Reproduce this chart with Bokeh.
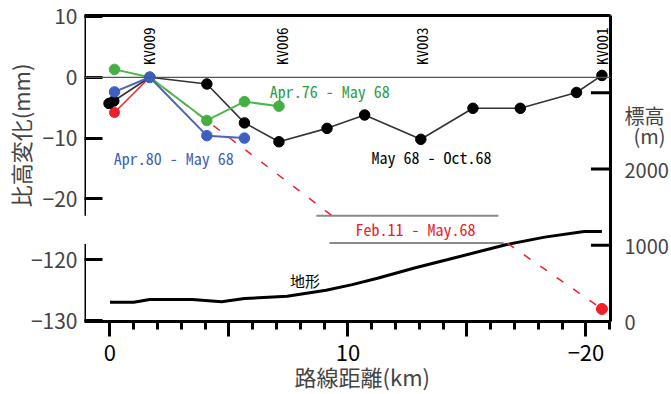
import math
from bokeh.plotting import figure
from bokeh.models import Range1d, LinearAxis, FixedTicker, Span, Label, Arrow
from bokeh.core.properties import value
from bokeh.embed import file_html
from bokeh.resources import INLINE

# ---------------- data (distance in km, height change in mm, elevation in m) ----------------
stations = ["KV009", "KV006", "KV003", "KV001"]
station_km = [1.62, 7.22, 13.1, 20.66]

black_km = [-0.04, 0.16, 1.67, 4.07, 5.65, 7.1, 9.12, 10.7, 13.06, 15.25, 17.24, 19.6, 20.67]
black_mm = [-4.3, -3.9, 0.0, -1.1, -7.5, -10.6, -8.4, -6.2, -10.2, -5.1, -5.1, -2.5, 0.3]

green_km = [0.19, 1.67, 4.07, 5.65, 7.1]
green_mm = [1.3, 0.0, -7.1, -4.0, -4.75]

blue_km = [0.19, 1.67, 4.07, 5.65]
blue_mm = [-2.4, 0.0, -9.6, -10.0]

red_km = [0.19, 1.67]
red_mm = [-5.8, 0.0]
red_end_km = [20.67]
red_end_mm = [-128.1]
red_dash_upper_km = [1.67, 9.31]
red_dash_upper_mm = [0.0, -22.7]
red_dash_lower_km = [16.7, 20.67]
red_dash_lower_mm = [-117.3, -128.1]

terrain_km = [0.0, 1.0, 1.67, 3.46, 4.69, 5.65, 7.44, 9.08, 10.18, 11.28, 12.79, 14.16, 16.63, 18.27, 19.92, 20.67]
terrain_m = [252, 252, 288, 288, 258, 301, 331, 409, 484, 571, 702, 810, 1007, 1107, 1180, 1180]

x_ticks = [0, 5, 10, 15, 20]
x_labels = {5: "", 15: "", 20: "−20"}
y_ticks_upper = [10, 0, -10, -20]
y_ticks_lower = [-120, -130]
elev_ticks = [0, 1000, 2000, 3000]
elev_labels = ["0", "1000", "2000", ""]

# ---------------- broken axis: lower section shifted up ----------------
LOWER_SHIFT = 90.0           # -120 mm is drawn at the -30 position
BREAK_TOP = -22.79           # upper section ends here
BREAK_BOTTOM = -27.43        # lower section starts here
def low(vals):
    return [v + LOWER_SHIFT for v in vals]

XMIN, XMAX = -1.07, 21.03
YMIN, YMAX = -40.16, 10.16
ELEV_MAX = 4015
ELEV_TITLE_1 = 2707   # height at which "標高" sits
ELEV_TITLE_2 = 2445   # height at which "(m)" sits

JP = "Noto Sans CJK JP"
MONO = "Noto Sans Mono CJK JP"
NB = "\u00a0"
IS = "\u3000"

p = figure(width=671, height=394, output_backend="svg", toolbar_location=None,
           x_range=Range1d(XMIN, XMAX), y_range=Range1d(YMIN, YMAX),
           x_axis_location=None, y_axis_location=None,
           min_border_left=80, min_border_right=54, min_border_top=15, min_border_bottom=72)
p.extra_y_ranges = {"elev": Range1d(0, ELEV_MAX)}
p.outline_line_color = None
p.grid.visible = False
p.background_fill_color = "white"

# bottom axis
xa = LinearAxis(ticker=FixedTicker(ticks=x_ticks, minor_ticks=list(range(0, 22))),
                major_label_overrides=x_labels)
xa.axis_line_width = 3
xa.major_tick_line_width = 3
xa.minor_tick_line_width = 3
xa.major_tick_in = 0
xa.major_tick_out = 15
xa.minor_tick_in = 0
xa.minor_tick_out = 8
xa.major_label_standoff = 8
xa.major_label_text_font = JP
xa.major_label_text_font_size = "22px"
xa.major_label_text_color = "black"
p.add_layout(xa, "below")

# outer bottom axis: only the title
xt = LinearAxis(ticker=FixedTicker(ticks=[]), axis_label=NB * 6 + "路線距離(km)")
xt.axis_line_color = None
xt.major_tick_out = 0
xt.minor_tick_out = 0
xt.major_label_text_font_size = "0px"
xt.major_label_standoff = 0
xt.axis_label_standoff = -4
xt.axis_label_text_font = JP
xt.axis_label_text_font_style = "normal"
xt.axis_label_text_font_size = "22px"
p.add_layout(xt, "below")

# top border
ta = LinearAxis(ticker=FixedTicker(ticks=[]))
ta.axis_line_width = 3
ta.major_label_text_font_size = "0px"
ta.major_tick_out = 0
ta.minor_tick_out = 0
ta.major_label_standoff = 0
p.add_layout(ta, "above")

# left axis (line drawn separately to show the break)
ya_ticks = y_ticks_upper + low(y_ticks_lower)
ya_labels = {t: (str(lab).replace("-", "−")) for t, lab in zip(ya_ticks, y_ticks_upper + y_ticks_lower)}
ya = LinearAxis(ticker=FixedTicker(ticks=ya_ticks, minor_ticks=[]), major_label_overrides=ya_labels)
ya.axis_line_color = None
ya.major_tick_in = 18
ya.major_tick_out = 0
ya.major_tick_line_width = 3
ya.major_label_standoff = 7
ya.major_label_text_font = JP
ya.major_label_text_font_size = "21px"
p.add_layout(ya, "left")
for y0, y1 in [(BREAK_TOP, YMAX), (YMIN, BREAK_BOTTOM)]:
    p.add_layout(Arrow(end=None, x_start=XMIN, y_start=y0, x_end=XMIN, y_end=y1,
                       line_width=3, line_color="black"))

# outer left axis: only the title
yt = LinearAxis(ticker=FixedTicker(ticks=[]), axis_label=IS * 3 + "比高変化(mm)")
yt.axis_line_color = None
yt.major_tick_out = 0
yt.minor_tick_out = 0
yt.major_label_text_font_size = "0px"
yt.major_label_standoff = 0
yt.axis_label_standoff = -8
yt.axis_label_text_font = JP
yt.axis_label_text_font_style = "normal"
yt.axis_label_text_font_size = "22px"
p.add_layout(yt, "left")

# right axis (elevation); its title is carried as two labels at the top
r_ticks = elev_ticks + [ELEV_TITLE_1, ELEV_TITLE_2]
r_labels = {t: s for t, s in zip(elev_ticks, elev_labels)}
r_labels[ELEV_TITLE_1] = "標高"
r_labels[ELEV_TITLE_2] = NB * 2 + "(m)"
ra = LinearAxis(y_range_name="elev", ticker=FixedTicker(ticks=r_ticks, minor_ticks=[]),
                major_label_overrides=r_labels)
ra.axis_line_width = 3
ra.major_tick_line_color = None
ra.major_label_standoff = 8
ra.major_label_text_font = JP
ra.major_label_text_font_size = "20px"
p.add_layout(ra, "right")
# inward ticks of the elevation axis
TICK_KM = 20 / 24.3
p.segment(x0=[XMAX - TICK_KM] * len(elev_ticks), y0=elev_ticks, x1=[XMAX] * len(elev_ticks),
          y1=elev_ticks, y_range_name="elev", line_color="black", line_width=3)

# zero line
p.add_layout(Span(location=0, dimension="width", line_color="#555555", line_width=1.3))

# break markers across the plot
p.segment(x0=[8.67, 9.22], y0=[BREAK_TOP, -27.26], x1=[16.32, 16.54], y1=[BREAK_TOP, -27.26],
          line_color="#8a8a8a", line_width=2)

# terrain
p.line(terrain_km, terrain_m, y_range_name="elev", line_color="black", line_width=3)

# red series
p.line(red_dash_upper_km, red_dash_upper_mm, line_color="#f0202a", line_width=1.5, line_dash="8 12")
p.line(red_dash_lower_km, low(red_dash_lower_mm), line_color="#f0202a", line_width=1.5, line_dash="8 12")
p.line(red_km, red_mm, line_color="#f0202a", line_width=1.5)
p.scatter(red_km[:1], red_mm[:1], size=10, color="#f0202a")
p.scatter(red_end_km, low(red_end_mm), size=11, color="#f0202a")

# black series
p.line(black_km, black_mm, line_color="#333333", line_width=1.6)
p.scatter(black_km, black_mm, size=10.5, color="black")

# green series
p.line(green_km, green_mm, line_color="#4cb84c", line_width=2)
p.scatter(green_km, green_mm, size=10.5, color="#44b044")

# blue series
p.line(blue_km, blue_mm, line_color="#4a66b4", line_width=2)
p.scatter(blue_km, blue_mm, size=10.5, color="#3c5fc0")

# station names
p.text(x=station_km, y=[2.0] * len(station_km), text=stations, angle=math.pi / 2,
       text_align="left", text_baseline="middle", text_font=value(MONO),
       text_font_size="15px", text_color="black")

# series labels
def lab(x, y, t, color, size="16px", font=MONO, **kw):
    p.add_layout(Label(x=x, y=y, text=t, text_color=color, text_font=font,
                       text_font_size=size, text_baseline="middle", **kw))

lab(6.71, -2.25, "Apr.76 - May 68", "#2a9d44")
lab(0.16, -13.33, "Apr.80 - May 68", "#4060b0")
lab(10.99, -13.1, "May 68 - Oct.68", "black")
lab(10.32, -24.97, "Feb.11 - May.68", "#e8202a")
lab(8.19, -33.44, "地形", "black", size="15px", font=JP, text_align="center")

open("out.html", "w").write(file_html(p, INLINE))
